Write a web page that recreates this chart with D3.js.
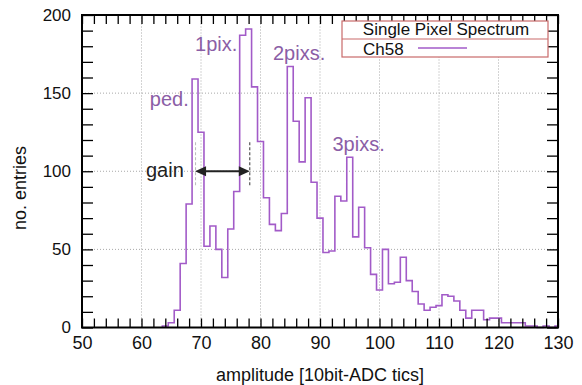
<!DOCTYPE html>
<html>
<head>
<meta charset="utf-8">
<script src="https://cdn.jsdelivr.net/npm/d3@7/dist/d3.min.js"></script>
<style>
  html, body { margin: 0; padding: 0; background: #fff; }
  svg { display: block; }
  text { font-family: "Liberation Sans", Arial, sans-serif; }
</style>
</head>
<body>
<svg id="chart" width="582" height="385"></svg>
<script>
// ---- data ----
const binCenters = d3.range(64, 131); // 64 .. 130, bin width 1
const counts = [
  1, 3, 11, 41, 79, 159, 125, 52, 65, 50,
  32, 63, 87, 187, 191, 154, 119, 83, 66, 62,
  73, 167, 132, 106, 147, 93, 70, 48, 49, 84,
  81, 109, 58, 77, 51, 34, 24, 50, 28, 29,
  45, 30, 23, 15, 11, 13, 14, 21, 20, 17,
  11, 6, 11, 11, 5, 6, 6, 3, 3, 3,
  3, 1, 1, 0, 1, 0, 1
];
const xTicks = [50, 60, 70, 80, 90, 100, 110, 120, 130];
const yTicks = [0, 50, 100, 150, 200];
const xGrid = [60, 70, 80, 90, 100, 110, 120];
const yGrid = [50, 100, 150];
const annotations = [
  { text: "ped.",   x: 61.4, y: 142 },
  { text: "1pix.",  x: 69.0, y: 177 },
  { text: "2pixs.", x: 82.1, y: 171 },
  { text: "3pixs.", x: 92.1, y: 113 }
];
const gainFrom = 69.0, gainTo = 78.2, gainLevel = 100;
const legendTitle = "Single Pixel Spectrum";
const seriesName = "Ch58";

// ---- layout ----
const W = 582, H = 385;
const m = { left: 82, right: 24, top: 15, bottom: 57.5 };
const svg = d3.select("#chart");
const x = d3.scaleLinear().domain([50, 130]).range([m.left, W - m.right]);
const y = d3.scaleLinear().domain([0, 200]).range([H - m.bottom, m.top]);
const histColor = "#a25bc8";
const annColor = "#8b5ea6";

svg.append("rect").attr("width", W).attr("height", H).attr("fill", "#fff");

// grid
const grid = svg.append("g").attr("stroke", "#a8a8a8").attr("stroke-width", 1).attr("stroke-dasharray", "1,2");
grid.selectAll("line.gx").data(xGrid).join("line")
  .attr("x1", d => x(d)).attr("x2", d => x(d)).attr("y1", y(0)).attr("y2", y(200));
grid.selectAll("line.gy").data(yGrid).join("line")
  .attr("y1", d => y(d)).attr("y2", d => y(d)).attr("x1", x(50)).attr("x2", x(130));

// histogram (step)
const pts = [[binCenters[0] - 0.5, 0]];
binCenters.forEach((c, i) => pts.push([c - 0.5, counts[i]]));
pts.push([binCenters[binCenters.length - 1] + 0.5, counts[counts.length - 1]]);
const line = d3.line().x(d => x(Math.min(d[0], 130))).y(d => y(d[1])).curve(d3.curveStepAfter);
svg.append("path").attr("d", line(pts)).attr("fill", "none")
  .attr("stroke", histColor).attr("stroke-width", 1.6);

// axes ticks (inside)
const minorX = d3.range(50, 131, 2);
const minorY = d3.range(0, 201, 10);
const tickStyle = g => { g.select(".domain").remove(); g.selectAll("line").attr("stroke", "#000").attr("stroke-width", 1.3); };
svg.append("g").attr("transform", `translate(0,${y(0)})`)
  .call(d3.axisBottom(x).tickValues(minorX).tickSize(-9).tickFormat("")).call(tickStyle);
svg.append("g").attr("transform", `translate(0,${y(200)})`)
  .call(d3.axisTop(x).tickValues(minorX).tickSize(-9).tickFormat("")).call(tickStyle);
svg.append("g").attr("transform", `translate(${x(50)},0)`)
  .call(d3.axisLeft(y).tickValues(minorY).tickSize(-11).tickFormat("")).call(tickStyle);
svg.append("g").attr("transform", `translate(${x(130)},0)`)
  .call(d3.axisRight(y).tickValues(minorY).tickSize(-11).tickFormat("")).call(tickStyle);

// tick labels
const xl = svg.append("g").attr("transform", `translate(0,${y(0)})`)
  .call(d3.axisBottom(x).tickValues(xTicks).tickSize(0).tickPadding(9).tickFormat(d3.format("d")));
xl.select(".domain").remove();
xl.selectAll("text").attr("font-size", 18).attr("fill", "#111").style("font-family", "Liberation Sans, Arial, sans-serif");
const yl = svg.append("g").attr("transform", `translate(${x(50)},0)`)
  .call(d3.axisLeft(y).tickValues(yTicks).tickSize(0).tickPadding(11).tickFormat(d3.format("d")));
yl.select(".domain").remove();
yl.selectAll("text").attr("font-size", 17).attr("fill", "#111").style("font-family", "Liberation Sans, Arial, sans-serif");

// frame
svg.append("rect").attr("x", x(50)).attr("y", y(200)).attr("width", x(130) - x(50)).attr("height", y(0) - y(200))
  .attr("fill", "none").attr("stroke", "#000").attr("stroke-width", 2);

// axis titles
svg.append("text").attr("x", (x(50) + x(130)) / 2).attr("y", 381).attr("text-anchor", "middle")
  .attr("font-size", 18).attr("fill", "#111").text("amplitude [10bit-ADC tics]");
svg.append("text").attr("transform", `translate(26,188) rotate(-90)`).attr("text-anchor", "middle")
  .attr("font-size", 18).attr("fill", "#111").text("no. entries");

// annotations
svg.selectAll("text.ann").data(annotations).join("text").attr("class", "ann")
  .attr("x", d => x(d.x)).attr("y", d => y(d.y)).attr("font-size", 20).attr("fill", annColor).text(d => d.text);

// gain marker
const mk = svg.append("g");
mk.append("line").attr("x1", x(gainFrom) + 0.5).attr("x2", x(gainFrom) + 0.5).attr("y1", y(gainLevel) - 29).attr("y2", y(gainLevel) + 14)
  .attr("stroke", "#bbb").attr("stroke-width", 1).attr("stroke-dasharray", "3,2");
mk.append("line").attr("x1", x(gainTo)).attr("x2", x(gainTo)).attr("y1", y(gainLevel) - 29).attr("y2", y(gainLevel) + 14)
  .attr("stroke", "#333").attr("stroke-width", 1).attr("stroke-dasharray", "3,2");
const ax1 = x(gainFrom), ax2 = x(gainTo), ay = y(gainLevel);
mk.append("line").attr("x1", ax1 + 8).attr("x2", ax2 - 8).attr("y1", ay).attr("y2", ay).attr("stroke", "#222").attr("stroke-width", 2);
mk.append("path").attr("d", `M${ax1},${ay} L${ax1 + 11},${ay - 5} L${ax1 + 11},${ay + 5} Z`).attr("fill", "#222");
mk.append("path").attr("d", `M${ax2},${ay} L${ax2 - 11},${ay - 5} L${ax2 - 11},${ay + 5} Z`).attr("fill", "#222");
svg.append("text").attr("x", 146).attr("y", 177).attr("font-size", 20).attr("fill", "#222").text("gain");

// legend
const lg = svg.append("g");
const lx = 342, ly = 21, lw = 206, lh = 36;
lg.append("rect").attr("x", lx).attr("y", ly).attr("width", lw).attr("height", lh)
  .attr("fill", "#fff").attr("stroke", "#c96a6a").attr("stroke-width", 1.2);
lg.append("line").attr("x1", lx).attr("x2", lx + lw).attr("y1", ly + 18).attr("y2", ly + 18)
  .attr("stroke", "#c96a6a").attr("stroke-width", 1.2);
lg.append("text").attr("x", lx + lw / 2 + 1).attr("y", ly + 14).attr("text-anchor", "middle")
  .attr("font-size", 17).attr("fill", "#111").text(legendTitle);
lg.append("text").attr("x", 363).attr("y", ly + 33.5).attr("font-size", 17).attr("fill", "#111").text(seriesName);
lg.append("line").attr("x1", 418).attr("x2", 467).attr("y1", ly + 27).attr("y2", ly + 27)
  .attr("stroke", histColor).attr("stroke-width", 1.6);
</script>
</body>
</html>
